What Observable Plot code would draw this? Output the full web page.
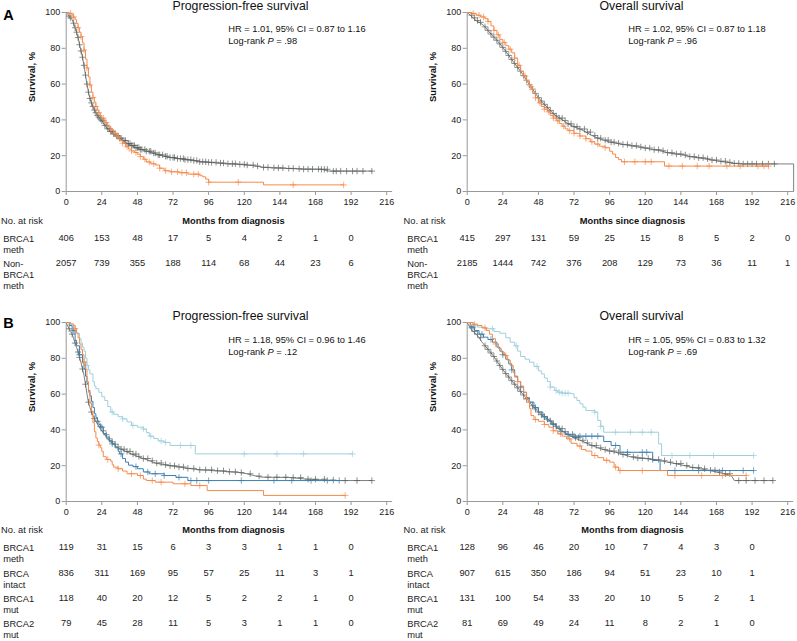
<!DOCTYPE html>
<html><head><meta charset="utf-8">
<script src="https://cdn.jsdelivr.net/npm/d3@7"></script>
<script src="https://cdn.jsdelivr.net/npm/@observablehq/plot@0.6"></script>
<style>
html,body{margin:0;padding:0;background:#fff;}
#wrap{position:relative;width:797px;height:641px;overflow:hidden;font-family:'Liberation Sans',Arial,sans-serif;}
.panel{position:absolute;}
.panel svg{overflow:visible;}
.panel svg g[aria-label*="axis"] path, .panel svg g[aria-label*="axis"] line{stroke:#999;}
</style></head><body><div id="wrap"></div>
<script>
// ---------- tick labels ----------
const xTicks = [0, 24, 48, 72, 96, 120, 144, 168, 192, 216];
const yTicks = [0, 20, 40, 60, 80, 100];
const riskTimes = [0, 24, 48, 72, 96, 120, 144, 168, 192, 216];

// ---------- A: PFS ----------
const pfsA_non = [[0,100],[1,99],[2,98],[3,97],[4,96],[5,94],[6,91.5],[7,89],[8,86],[9,82],[10,78.5],[11,75],[12,70.5],[13,65],[14,60],[15,55.5],[16,52],[17,49.5],[18,47.5],[19,45.5],[20,44],[21,42.5],[22,41.5],[23,40.5],[24,39.5],[26,37],[28,35],[30,33.5],[32,32.3],[34,31],[36,29.8],[38,28.5],[41,26.8],[44,25.7],[47,24.5],[50,23.5],[54,22.5],[58,21.5],[62,20.5],[66,19.7],[70,19],[75,18.4],[80,17.8],[85,17.3],[90,16.6],[96,16.3],[102,15.9],[108,15.5],[115,15.2],[122,14.8],[128,14.2],[133,13.5],[140,13.2],[148,12.9],[155,12.7],[160,12.5],[172,12.4],[177,11.4],[206,11.4]];
const pfsA_meth = [[0,100],[2,99.5],[4,98.5],[5,97.5],[6,96],[7,94],[8,91.5],[9,89],[10,86.5],[11,83],[12,79],[13,74],[14,69],[15,64],[16,59.5],[17,55.5],[18,52.5],[19,50],[20,47.5],[21,45.5],[22,44],[23,42.5],[24,41],[26,38.5],[28,36.5],[30,34.5],[32,32.5],[34,30.5],[36,28.5],[38,27],[40,25],[42,23.7],[44,22.7],[46,21.8],[48,20.8],[50,19.5],[52,18],[54,16.5],[57,15.5],[60,14.8],[63,13],[66,11.6],[70,11],[76,10.5],[82,9.7],[90,8.8],[92,8.2],[94,6.9],[96,5.2],[133,3.7],[187,3.7]];
const pfsA_non_cens = [2,3,5,6,7,8,9,10,11,12,13,14,15,16,17,18,19,20,21,22,23,24,25,26,27,28,29,30,31,32,33,34,35,36,37,38,39,40,41,42,43,44,45,46,47,48,49,50,51,53,54,56,57,59,60,62,63,65,67,68,70,72,73,75,77,79,80,82,84,86,88,90,92,94,96,98,101,104,106,109,112,114,117,120,122,126,129,133,136,140,143,146,150,153,157,160,163,166,170,172,174,176,180,182,185,189,193,196,200,206];
const pfsA_meth_cens = [3,5,8,10,12,14,16,18,20,22,25,27,30,33,35,38,41,44,47,50,53,56,59,63,67,71,75,78,81,86,89,96,116,153,187];

// ---------- A: OS ----------
const osA_non = [[0,100],[2,98.5],[4,97],[6,95.5],[8,94.5],[10,93.5],[12,92],[14,90],[16,88],[18,86.2],[20,84.5],[22,82.5],[24,80.5],[26,78.3],[28,76],[30,73.7],[32,71.5],[34,69.3],[36,67.2],[38,64.8],[40,62.2],[42,59.6],[44,57.2],[46,54.8],[48,52.5],[50,50.5],[52,48.7],[54,47],[56,45.3],[58,43.6],[60,42.2],[62,41],[65,39.6],[68,37.8],[72,36.2],[76,34.9],[80,33.2],[84,31.3],[88,29.8],[92,28.7],[96,27.6],[100,27],[105,26.3],[110,25.6],[115,24.9],[120,24.3],[125,23.4],[130,22.8],[135,21.7],[140,21],[146,20.4],[150,19.5],[155,18.9],[160,18.3],[165,17.6],[170,16.9],[175,16.3],[180,15.7],[185,15.4],[220,15.4],[220,0]];
const osA_meth = [[0,100],[3,99.5],[6,98.5],[9,97.5],[12,96.5],[14,95],[16,92.5],[18,90],[20,87.5],[22,85],[24,83.3],[26,81.5],[28,79.5],[30,77.5],[32,74.5],[34,70.5],[36,67],[38,64.5],[40,61.5],[42,58.5],[44,55.5],[46,52.3],[48,49.5],[50,47.5],[52,46],[54,44.5],[56,42.5],[58,41],[60,39.5],[62,38],[64,36.5],[66,35],[68,34],[72,32.5],[76,31],[80,29.5],[83,27.8],[86,26.5],[89,25.3],[93,24.5],[96,22.5],[98,20.9],[100,19],[102,17.8],[104,16.6],[133,14.2],[203,14.2]];
const osA_non_cens = [3,5,7,9,12,14,16,18,20,22,24,26,28,30,32,34,36,38,40,42,44,46,48,50,52,54,56,58,60,62,64,66,68,70,72,74,76,79,81,83,86,88,90,93,95,97,99,102,105,108,111,114,117,120,123,126,129,132,135,138,141,144,147,150,153,156,159,162,165,168,171,174,177,180,183,186,189,192,195,199,203,207];
const osA_meth_cens = [4,8,11,14,18,21,25,29,32,35,39,43,46,49,52,55,58,61,65,69,72,76,80,84,88,93,106,113,120,124,136,145,155,163,175,184,196,200,203];

// ---------- B: PFS ----------
const pfsB_intact = [[0,100],[1,98],[2,96.5],[3,95],[4,93.5],[5,91],[6,88.5],[7,86],[8,83.5],[9,80.5],[10,77.5],[11,74],[12,70.5],[13,65.5],[14,60],[15,55.5],[16,52.5],[17,50],[18,48],[19,46.3],[20,44.8],[22,42],[24,39.5],[26,37.3],[28,35],[30,33.3],[32,32],[34,30.5],[37,29.2],[40,28],[44,26.5],[48,25.2],[52,24],[56,22.8],[60,21.5],[65,20.6],[70,20],[76,19.3],[82,18.5],[90,17.7],[100,17.2],[110,16.6],[116,16.2],[122,15.5],[128,14.2],[132,13.6],[150,13.4],[162,12.5],[175,12],[182,11.7],[206,11.7]];
const pfsB_meth = [[0,100],[3,99.2],[5,98.3],[6,96.6],[7,94],[8,91.5],[9,88],[10,85],[11,82],[12,78],[13,74],[14,67],[15,61],[16,55],[17,50.5],[18,44],[19,39],[20,35.5],[21,33.5],[22,31.5],[23,30],[24,28],[25,25],[27,23.5],[30,22.5],[31,20.5],[32,19.2],[35,18.3],[38,17],[41,15.5],[48,14.5],[52,12.5],[54,11.7],[60,10.8],[72,9.9],[84,8.9],[95,6.1],[133,3.4],[188,3.4]];
const pfsB_b1mut = [[0,100],[2,98.3],[4,95.5],[6,90],[7,87],[9,82],[11,77.5],[12,74],[13,70],[14,66],[15,62],[16,59],[17,56],[18,52.5],[19,49],[20,47],[21,45],[22,43],[23,41.5],[25,38],[27,36],[29,34],[31,32.2],[33,30],[35,28],[36,26.6],[38,24],[40,22],[42,20.3],[45,19.5],[48,18.3],[52,16.5],[56,15.5],[66,14.5],[74,13.5],[82,11.7],[184,11.7]];
const pfsB_b2mut = [[0,100],[3,98.7],[5,96.2],[7,94],[9,91],[10,88.5],[11,86.2],[12,84],[13,80],[14,76],[15,73.5],[16,71.3],[18,67],[19,64.5],[20,63],[22,61],[24,58.5],[26,56.4],[28,53],[30,50],[32,48.7],[35,47.4],[38,46.2],[41,44.5],[44,42.5],[48,41.5],[52,40.5],[54,38.5],[56,36.5],[59,35.2],[62,33.8],[66,33],[70,31.3],[87,26.6],[193,26.6]];
const pfsB_intact_cens = [2,4,6,8,9,11,13,15,17,19,21,23,25,27,29,31,33,35,37,39,41,43,45,47,49,52,55,58,61,64,67,70,73,76,79,82,86,90,94,98,102,106,110,114,118,124,130,136,142,148,153,158,163,168,174,180,188,196,206];
const pfsB_meth_cens = [6,12,22,28,35,44,50,58,64,80,90,188];
const pfsB_b1mut_cens = [5,9,24,31,37,47,55,60,66,76,84,88,96,118,140,152,165,176,184];
const pfsB_b2mut_cens = [14,31,38,45,52,57,64,67,77,84,120,142,160,193];

// ---------- B: OS ----------
const osB_intact = [[0,100],[2,97],[4,95],[6,93.5],[8,91.5],[10,89],[12,87],[14,85],[16,83],[18,81],[20,78.5],[22,76],[24,73.8],[26,71.5],[28,69.5],[30,67.5],[32,65.5],[34,63.5],[36,61.5],[38,59.5],[40,57.5],[42,55.5],[44,53.5],[46,51.7],[48,50],[50,48.5],[52,47.2],[54,46],[56,45],[58,43.5],[60,42],[62,40.7],[65,39],[68,37.5],[72,35.7],[76,34.2],[80,32.8],[84,31.3],[88,30],[92,29],[96,28.2],[100,27.5],[105,26.3],[110,25],[115,24.3],[120,24],[125,23.5],[130,22.8],[135,22],[140,21.2],[146,20.1],[152,19],[157,18.3],[162,17.5],[168,16.5],[173,15.5],[178,14.5],[180,11.7],[206,11.7]];
const osB_meth = [[0,100],[4,99],[7,98.3],[10,97],[13,95.5],[15,93.5],[17,91],[19,88],[21,85.5],[23,83.5],[25,81.5],[27,79],[29,76],[31,72],[32,69.5],[34,67],[36,64.5],[38,61],[40,57],[42,52],[43,48],[45,45.8],[48,44.8],[52,43],[55,41.5],[58,39.5],[61,37.8],[64,36.5],[67,35],[70,32.5],[74,31],[77,29],[80,28.2],[84,25.7],[88,24.5],[92,23],[96,22],[99,19.2],[102,17.3],[135,14.5],[188,14.5]];
const osB_b1mut = [[0,100],[2,97.5],[5,95.5],[8,93.5],[11,91.8],[14,90.5],[17,89],[20,86.2],[22,84],[24,82],[26,79.5],[28,76.9],[30,73.5],[32,70],[34,67],[36,64],[38,61],[40,58],[42,55.5],[45,52.5],[48,50],[51,47.5],[54,45],[57,43],[60,41],[63,39],[66,37.5],[69,36.5],[92,33.5],[97,31.3],[103,27.5],[125,22.9],[130,17.3],[193,17.3]];
const osB_b2mut = [[0,100],[4,98.5],[7,97.4],[12,96.5],[18,95],[22,94],[26,91.5],[29,89],[32,87],[34,84],[36,81],[39,79.5],[42,77.8],[45,75.5],[48,73],[50,71.3],[52,69],[54,67],[56,63.9],[59,62],[61,61.1],[64,60.5],[70,60.2],[72,58],[74,56.4],[76,54.6],[78,52.7],[80,50.8],[86,49.9],[88,45.3],[90,42],[92,38.7],[129,32.2],[131,25.7],[193,25.7]];
const osB_intact_cens = [3,5,7,9,12,14,16,18,20,22,24,26,28,30,32,34,36,38,40,42,44,46,48,50,52,54,56,58,60,62,64,66,68,71,73,75,78,81,84,87,90,93,96,99,102,105,108,112,115,118,122,125,129,133,137,141,144,148,152,156,160,164,167,170,174,177,183,188,194,200,206];
const osB_meth_cens = [5,12,19,26,34,40,46,52,58,63,69,76,86,94,100,103,118,140,158,172,188];
const osB_b1mut_cens = [4,10,16,24,30,36,46,52,58,63,68,72,76,80,84,88,100,108,118,121,140,156,172,186,193];
const osB_b2mut_cens = [17,33,47,56,60,62,64,66,68,86,90,100,110,118,124,138,150,166,193];

// ---------- at-risk tables ----------
const riskA_pfs_meth = [406,153,48,17,5,4,2,1,0];
const riskA_pfs_non = [2057,739,355,188,114,68,44,23,6];
const riskA_os_meth = [415,297,131,59,25,15,8,5,2,0];
const riskA_os_non = [2185,1444,742,376,208,129,73,36,11,1];
const riskB_pfs_meth = [119,31,15,6,3,3,1,1,0];
const riskB_pfs_intact = [836,311,169,95,57,25,11,3,1];
const riskB_pfs_b1mut = [118,40,20,12,5,2,2,1,0];
const riskB_pfs_b2mut = [79,45,28,11,5,3,1,1,0];
const riskB_os_meth = [128,96,46,20,10,7,4,3,0];
const riskB_os_intact = [907,615,350,186,94,51,23,10,1];
const riskB_os_b1mut = [131,100,54,33,20,10,5,2,1];
const riskB_os_b2mut = [81,69,49,24,11,8,2,1,0];

const labelsA = ["BRCA1\nmeth", "Non-\nBRCA1\nmeth"];
const labelsB = ["BRCA1\nmeth", "BRCA\nintact", "BRCA1\nmut", "BRCA2\nmut"];

// ---------- colours ----------
const C = {orange: "#f58a4c", gray: "#7c817e", grayMark: "#5a605d", light: "#9fcfdc", dark: "#3d80ad"};
const FONT = "'Liberation Sans', Arial, sans-serif";
const LINE_H = 11;

function stepAt(pts, t) {
  let v = pts[0][1];
  for (const [tt, s] of pts) if (tt <= t) v = s;
  return v;
}

function makePanel(cfg) {
  const marks = [];
  const T = (txt, o) => Plot.text([txt], {text: d => d, lineAnchor: "middle", ...o});
  marks.push(Plot.ruleY([{y: 0, a: 0, b: 220}], {y: "y", x1: "a", x2: "b", stroke: "#999", strokeWidth: 1}));
  marks.push(Plot.ruleX([0], {stroke: "#999", strokeWidth: 1}));
  for (const c of cfg.curves) {
    const data = c.pts.map(([t, s]) => ({t, s}));
    marks.push(Plot.line(data, {x: "t", y: "s", curve: c.curve || "step-after", stroke: c.color, strokeWidth: 1}));
    const cens = c.cens.map(t => ({t, s: stepAt(c.pts, t)}));
    marks.push(Plot.dot(cens, {x: "t", y: "s", symbol: "plus", r: 2.2, fill: "none", stroke: c.mark || c.color, strokeWidth: 0.7}));
  }
  if (cfg.letter) marks.push(T(cfg.letter, {frameAnchor: "top-left", dx: 2.7 - cfg.mL, dy: cfg.letterDy, textAnchor: "start", fontSize: 14.5, fontWeight: "bold", fill: "#000"}));
  marks.push(T(cfg.title, {frameAnchor: "top", dx: 14, dy: -6, fontSize: 12.3, fill: "#111"}));
  marks.push(T(cfg.hr, {frameAnchor: "top-left", dx: 162 - (cfg.mL - 65.7), dy: cfg.hrDy, textAnchor: "start", fontSize: 9.3, fill: "#111"}));
  marks.push(T(cfg.lr, {frameAnchor: "top-left", dx: 162 - (cfg.mL - 65.7), dy: cfg.hrDy + 11.8, textAnchor: "start", fontSize: 9.3, fill: "#111"}));
  marks.push(T("Survival, %", {frameAnchor: "left", dx: -34, rotate: -90, fontSize: 9.4, fontWeight: "bold", fill: "#111"}));
  marks.push(T(cfg.xlabel, {frameAnchor: "bottom", dx: cfg.xlDx, dy: cfg.naDy, fontSize: 9.3, fontWeight: "bold", fill: "#111"}));
  marks.push(T("No. at risk", {frameAnchor: "bottom-left", dx: cfg.naX - cfg.mL, dy: cfg.naDy, textAnchor: "start", fontSize: 9.3, fill: "#222"}));
  cfg.rows.forEach((r, i) => {
    const lines = r.label.split("\n").length;
    marks.push(T(r.label, {frameAnchor: "bottom-left", dx: cfg.rlX - cfg.mL, dy: cfg.rowDy[i] + (lines - 1) * LINE_H / 2, textAnchor: "start", lineHeight: LINE_H / 9.3, fontSize: 9.3, fill: "#222"}));
    const nums = r.values.map((n, j) => ({t: riskTimes[j], n}));
    marks.push(Plot.text(nums, {x: "t", text: d => String(d.n), frameAnchor: "bottom", lineAnchor: "middle", dy: cfg.rowDy[i], fontSize: 9.3, fill: "#222"}));
  });
  const svg = Plot.plot({
    width: cfg.w, height: cfg.h,
    marginLeft: cfg.mL, marginRight: cfg.mR, marginTop: 12, marginBottom: cfg.mB,
    style: {fontFamily: FONT, fontSize: "9px", color: "#222", background: "transparent", overflow: "visible"},
    x: {domain: [0, 216], ticks: xTicks, tickSize: 4, tickPadding: 3, label: null},
    y: {domain: [0, 100], ticks: yTicks, tickSize: 4, tickPadding: 2, label: null},
    marks
  });
  svg.querySelectorAll("text").forEach(el => {
    if (el.textContent.startsWith("Log-rank P")) {
      const rest = el.textContent.slice(10);
      el.textContent = "Log-rank ";
      const ts = document.createElementNS("http://www.w3.org/2000/svg", "tspan");
      ts.setAttribute("font-style", "italic");
      ts.textContent = "P";
      el.appendChild(ts);
      el.appendChild(document.createTextNode(rest));
    }
  });
  const div = document.createElement("div");
  div.className = "panel";
  div.style.left = cfg.left + "px";
  div.style.top = cfg.top + "px";
  div.appendChild(svg);
  document.getElementById("wrap").appendChild(div);
}

makePanel({left: 0, top: 0, w: 400, h: 310, mL: 65.7, mR: 13.8, mB: 119,
  letter: "A", letterDy: 3, title: "Progression-free survival",
  hr: "HR = 1.01, 95% CI = 0.87 to 1.16", lr: "Log-rank P = .98", hrDy: 16.5,
  xlabel: "Months from diagnosis", xlDx: 7, naDy: 29.7, naX: 0.5, rlX: 2.7,
  rowDy: [46.7, 71.7],
  rows: [{label: labelsA[0], values: riskA_pfs_meth}, {label: labelsA[1], values: riskA_pfs_non}],
  curves: [
    {pts: pfsA_non, cens: pfsA_non_cens, color: C.gray, mark: C.grayMark, curve: "linear"},
    {pts: pfsA_meth, cens: pfsA_meth_cens, color: C.orange}
  ]});

makePanel({left: 400, top: 0, w: 397, h: 310, mL: 66.7, mR: 9.8, mB: 119,
  title: "Overall survival",
  hr: "HR = 1.02, 95% CI = 0.87 to 1.18", lr: "Log-rank P = .96", hrDy: 16.5,
  xlabel: "Months since diagnosis", xlDx: 5, naDy: 29.7, naX: 3, rlX: 6.7,
  rowDy: [46.7, 71.7],
  rows: [{label: labelsA[0], values: riskA_os_meth}, {label: labelsA[1], values: riskA_os_non}],
  curves: [
    {pts: osA_non, cens: osA_non_cens, color: C.gray, mark: C.grayMark, curve: "linear"},
    {pts: osA_meth, cens: osA_meth_cens, color: C.orange}
  ]});

makePanel({left: 0, top: 310, w: 400, h: 331, mL: 65.7, mR: 13.8, mB: 140,
  letter: "B", letterDy: 1, title: "Progression-free survival",
  hr: "HR = 1.18, 95% CI = 0.96 to 1.46", lr: "Log-rank P = .12", hrDy: 17.3,
  xlabel: "Months from diagnosis", xlDx: 7, naDy: 29, naX: 0.5, rlX: 2.7,
  rowDy: [46, 71.5, 97, 122],
  rows: [{label: labelsB[0], values: riskB_pfs_meth}, {label: labelsB[1], values: riskB_pfs_intact},
         {label: labelsB[2], values: riskB_pfs_b1mut}, {label: labelsB[3], values: riskB_pfs_b2mut}],
  curves: [
    {pts: pfsB_intact, cens: pfsB_intact_cens, color: C.gray, mark: C.grayMark, curve: "linear"},
    {pts: pfsB_b2mut, cens: pfsB_b2mut_cens, color: C.light},
    {pts: pfsB_b1mut, cens: pfsB_b1mut_cens, color: C.dark},
    {pts: pfsB_meth, cens: pfsB_meth_cens, color: C.orange}
  ]});

makePanel({left: 400, top: 310, w: 397, h: 331, mL: 66.7, mR: 9.8, mB: 140,
  title: "Overall survival",
  hr: "HR = 1.05, 95% CI = 0.83 to 1.32", lr: "Log-rank P = .69", hrDy: 17.3,
  xlabel: "Months from diagnosis", xlDx: 5, naDy: 29, naX: 3, rlX: 6.7,
  rowDy: [46, 71.5, 97, 122],
  rows: [{label: labelsB[0], values: riskB_os_meth}, {label: labelsB[1], values: riskB_os_intact},
         {label: labelsB[2], values: riskB_os_b1mut}, {label: labelsB[3], values: riskB_os_b2mut}],
  curves: [
    {pts: osB_intact, cens: osB_intact_cens, color: C.gray, mark: C.grayMark, curve: "linear"},
    {pts: osB_b2mut, cens: osB_b2mut_cens, color: C.light},
    {pts: osB_b1mut, cens: osB_b1mut_cens, color: C.dark},
    {pts: osB_meth, cens: osB_meth_cens, color: C.orange}
  ]});
</script></body></html>
